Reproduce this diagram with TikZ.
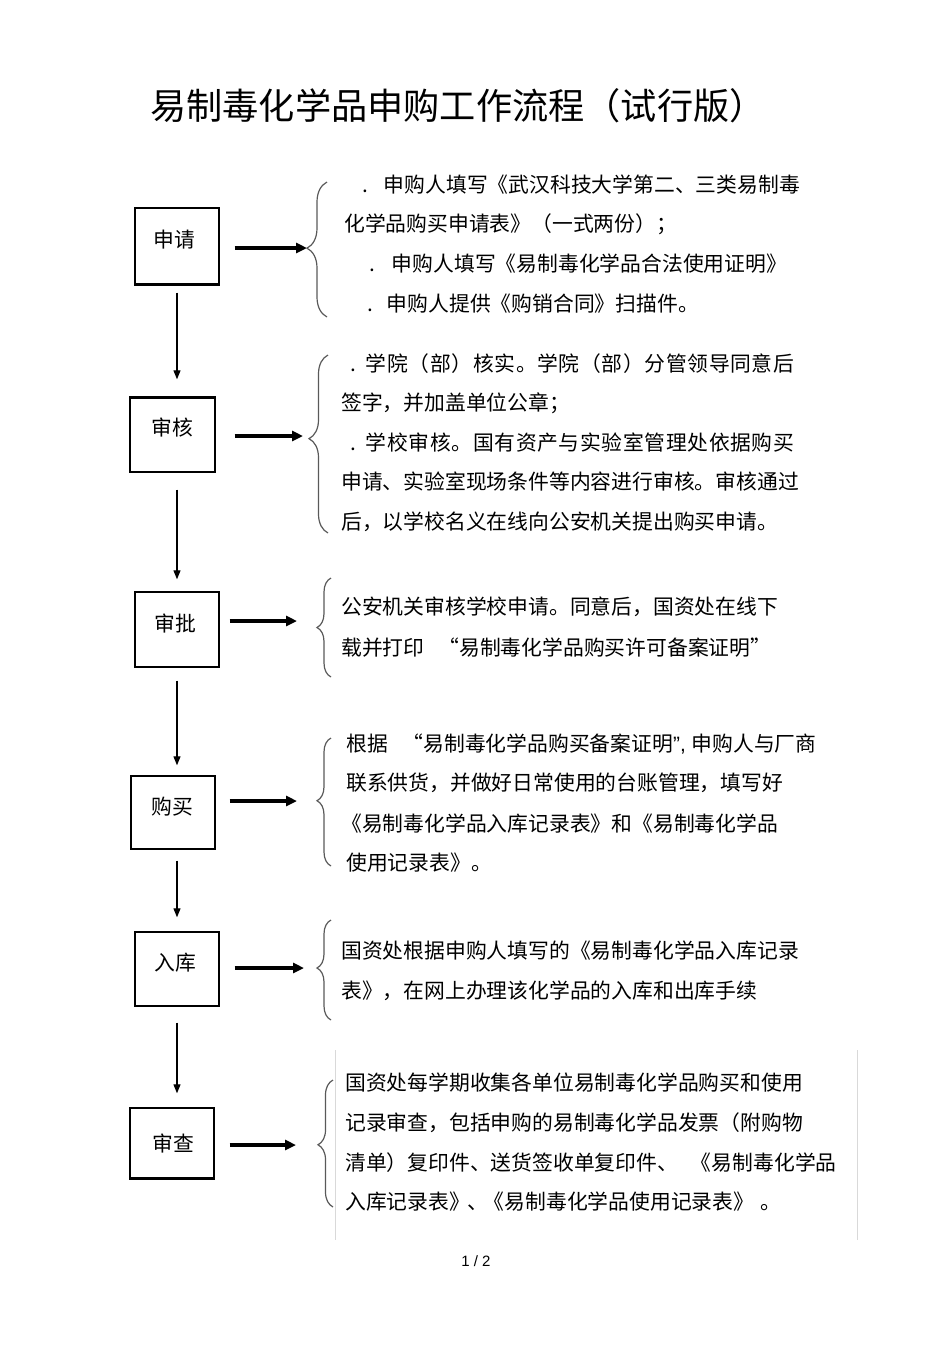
\documentclass[tikz,border=0pt]{standalone}
\usepackage{fontspec}
\setmainfont{Noto Sans CJK SC}
\newfontfamily\latinsans{Liberation Sans}
\usetikzlibrary{arrows.meta,decorations.pathreplacing}
\begin{document}
\begin{tikzpicture}[x=1pt,y=-1pt,
  box/.style={draw, line width=1.4pt, minimum width=84pt, minimum height=75pt, inner sep=0pt},
  lbl/.style={inner sep=0pt, font=\fontsize{20.8}{24}\selectfont},
  txt/.style={anchor=west, inner sep=0pt, text height=18pt, text depth=3pt, font=\fontsize{20.8}{24}\selectfont},
  harrow/.style={line width=3.2pt, -{Triangle[length=11pt,width=10pt]}},
  varrow/.style={line width=1.2pt, -{Triangle[length=9pt,width=7pt]}},
  brc/.style={draw=black!65, line width=1.2pt, decorate},
  thickedge/.style={line width=3pt},
  faint/.style={draw=black!15, line width=0.8pt}]
\useasboundingbox (0,0) rectangle (950,1345);

% title
\node[inner sep=0pt, anchor=west, font=\fontsize{36.2}{40}\selectfont] (title) at (150,106) {易制毒化学品申购工作流程（试行版）};

% step boxes
\node[box, minimum width=84pt, minimum height=76pt] (s1) at (177,246) {};
\node[box, minimum width=85pt, minimum height=74pt] (s2) at (172.5,435) {};
\node[box, minimum width=84pt, minimum height=75pt] (s3) at (177,629.5) {};
\node[box, minimum width=84pt, minimum height=73pt] (s4) at (173,812.5) {};
\node[box, minimum width=84pt, minimum height=74pt] (s5) at (177,969) {};
\node[box, minimum width=84pt, minimum height=70pt] (s6) at (172,1143) {};
\draw[thickedge] (s1.south west) -- (s1.south east);
\draw[thickedge] (s2.north west) -- (s2.north east);
\draw[thickedge] (s6.south west) -- (s6.south east);

\node[lbl] (l1) at (174,240) {申请};
\node[lbl] (l2) at (172,428) {审核};
\node[lbl] (l3) at (175,623) {审批};
\node[lbl] (l4) at (172,807) {购买};
\node[lbl] (l5) at (175,963) {入库};
\node[lbl] (l6) at (173,1143) {审查};

% vertical arrows
\draw[varrow, shorten <=8pt, shorten >=18pt] (s1.south) -- (s1.south |- s2.north);
\draw[varrow, shorten <=17pt, shorten >=12pt] (s3.north |- s2.south) -- (s3.north);
\draw[varrow, shorten <=13pt, shorten >=10pt] (s3.south) -- (s3.south |- s4.north);
\draw[varrow, shorten <=11pt, shorten >=14pt] (s5.north |- s4.south) -- (s5.north);
\draw[varrow, shorten <=16pt, shorten >=14pt] (s5.south) -- (s5.south |- s6.north);

% arrow targets
\coordinate (t1) at (307,248);
\coordinate (t2) at (303,436);
\coordinate (t3) at (297,621);
\coordinate (t4) at (297,801);
\coordinate (t5) at (304,968);
\coordinate (t6) at (296,1145);
\draw[harrow, shorten <=15pt] (s1.east |- t1) -- (t1);
\draw[harrow, shorten <=19pt] (s2.east |- t2) -- (t2);
\draw[harrow, shorten <=10pt] (s3.east |- t3) -- (t3);
\draw[harrow, shorten <=14pt] (s4.east |- t4) -- (t4);
\draw[harrow, shorten <=15pt] (s5.east |- t5) -- (t5);
\draw[harrow, shorten <=15pt] (s6.east |- t6) -- (t6);

% braces
\draw[brc, decoration={brace, amplitude=20pt, aspect=0.51}] (327,317) -- (327,182);
\draw[brc, decoration={brace, amplitude=19pt, aspect=0.53}] (328,533) -- (328,355);
\draw[brc, decoration={brace, amplitude=14pt, aspect=0.5}] (331,677) -- (331,578);
\draw[brc, decoration={brace, amplitude=14pt, aspect=0.51}] (331,866) -- (331,738);
\draw[brc, decoration={brace, amplitude=14pt, aspect=0.52}] (331,1020) -- (331,920);
\draw[brc, decoration={brace, amplitude=15pt, aspect=0.49}] (333,1207) -- (333,1080);

% faint frame lines
\draw[faint] (335,1050) -- (335,1240);
\draw[faint] (857,1050) -- (857,1240);

% block 1
\node[txt] (a1) at (362,185) {.\hspace{16pt}申购人填写《武汉科技大学第二、三类易制毒};
\node[txt] (a2) at (344,224) {化学品购买申请表》（一式两份）；};
\node[txt] (a3) at (369,264) {.\hspace{17pt}申购人填写《易制毒化学品合法使用证明》};
\node[txt] (a4) at (367,304) {.\hspace{14pt}申购人提供《购销合同》扫描件。};

% block 2
\node[txt] (b1) at (350,364) {.\hspace{10pt}{\addfontfeature{LetterSpace=3.1}学院（部）核实。学院（部）分管领导同意后}};
\node[txt] (b2) at (341,403) {签字，并加盖单位公章；};
\node[txt] (b3) at (350,443) {.\hspace{10pt}{\addfontfeature{LetterSpace=3.1}学校审核。国有资产与实验室管理处依据购买}};
\node[txt] (b4) at (341,482) {申请、实验室现场条件等内容进行审核。审核通过};
\node[txt] (b5) at (341,522) {后，以学校名义在线向公安机关提出购买申请。};

% block 3
\node[txt] (c1) at (341,607) {公安机关审核学校申请。同意后，国资处在线下};
\node[txt] (c2) at (341,648) {载并打印\hspace{14pt}“易制毒化学品购买许可备案证明”};

% block 4
\node[txt] (d1) at (346,744) {根据\hspace{15pt}“易制毒化学品购买备案证明{\latinsans ”, }申购人与厂商};
\node[txt] (d2) at (346,783) {联系供货，并做好日常使用的台账管理，填写好};
\node[txt] (d3) at (341,824) {《易制毒化学品入库记录表》和《易制毒化学品};
\node[txt] (d4) at (346,863) {使用记录表》。};

% block 5
\node[txt] (e1) at (341,951) {国资处根据申购人填写的《易制毒化学品入库记录};
\node[txt] (e2) at (341,991) {表》，在网上办理该化学品的入库和出库手续};

% block 6
\node[txt] (f1) at (345,1083) {国资处每学期收集各单位易制毒化学品购买和使用};
\node[txt] (f2) at (345,1123) {记录审查，包括申购的易制毒化学品发票（附购物};
\node[txt] (f3) at (345,1163) {清单）复印件、送货签收单复印件、\hspace{13pt}《易制毒化学品};
\node[txt] (f4) at (345,1202) {入库记录表》\hspace{-3pt}、\hspace{-4pt}《易制毒化学品使用记录表》\hspace{6pt}。};

% page number
\node[inner sep=0pt, font=\latinsans\fontsize{15}{17}\selectfont] (pg) at (476,1261) {1 / 2};
\end{tikzpicture}
\end{document}
